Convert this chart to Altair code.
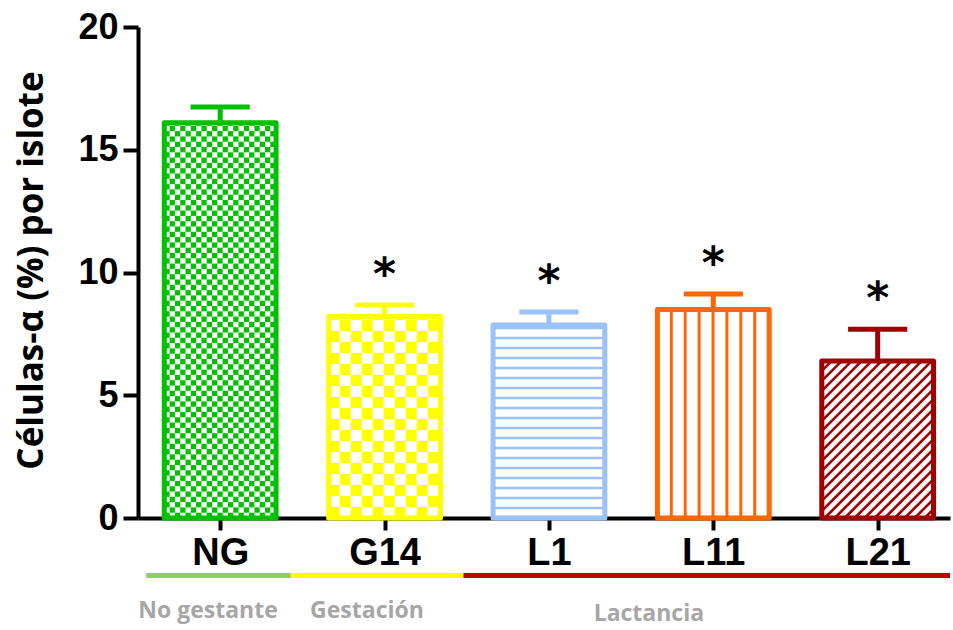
import json
import altair as alt
import pandas as pd

# Alpha-cell percentage per islet, mean and SEM by physiological stage
groups = ["NG", "G14", "L1", "L11", "L21"]
means = [16.1, 8.21, 7.86, 8.49, 6.40]
sems = [0.64, 0.47, 0.53, 0.63, 1.29]
significant = [False, True, True, True, True]

# Stage brackets under the axis (in category-index units)
phase_names = ["No gestante", "Gestación", "Lactancia"]
phase_start = [-0.45, 0.43, 1.48]
phase_end = [0.43, 1.48, 4.44]
phase_label_x = [-0.074, 0.893, 2.608]

# Styling
bar_colors = ["#00c000", "#ffff00", "#99c2f7", "#ff6600", "#a00000"]
fill_kind = ["checker", "checker", "horizontal", "vertical", "diagonal"]
fill_step = [5.3, 11.0, 10.0, 13.9, 10.0]      # pattern period in pixels
phase_colors = ["#92d050", "#ffff00", "#c00000"]
phase_label_dy = [0, 0, 3]

W, H = 812, 491
XMIN, XMAX = -0.5, 4.44
YMAX = 20
PX_X = W / (XMAX - XMIN)
PX_Y = H / YMAX
HALF = 0.34

bars = pd.DataFrame({
    "group": groups,
    "idx": list(range(len(groups))),
    "mean": means,
    "top": [m + s for m, s in zip(means, sems)],
    "color": bar_colors,
    "sig": significant,
})
bars["left"] = bars["idx"] - HALF
bars["right"] = bars["idx"] + HALF
bars["cap_l"] = bars["idx"] - 0.18
bars["cap_r"] = bars["idx"] + 0.18
bars["zero"] = 0.0

# Pattern fills, built in pixel space and mapped back to data units
cells, diags = [], []
for i, (m, col, kind, step) in enumerate(zip(means, bar_colors, fill_kind, fill_step)):
    x0 = i - HALF
    wpx = 2 * HALF * PX_X
    hpx = m * PX_Y

    def add_rect(ax, bx, ay, by):
        ax, bx = max(0.0, ax), min(wpx, bx)
        ay, by = max(0.0, ay), min(hpx, by)
        if bx > ax and by > ay:
            cells.append({"x": x0 + ax / PX_X, "x2": x0 + bx / PX_X,
                          "y": ay / PX_Y, "y2": by / PX_Y, "color": col})

    if kind == "checker":
        nc = int(wpx // step) + 1
        nr = int(hpx // step) + 1
        for r in range(nr):
            for c in range(nc):
                if (r + c) % 2 == 0:
                    add_rect(c * step, (c + 1) * step, r * step, (r + 1) * step)
    elif kind == "horizontal":
        k = 1
        while k * step < hpx:
            add_rect(0, wpx, k * step - 1.2, k * step + 1.2)
            k += 1
    elif kind == "vertical":
        k = 1
        while k * step < wpx - 2:
            add_rect(k * step - 1.5, k * step + 1.5, 0, hpx)
            k += 1
    elif kind == "diagonal":
        c = -hpx
        while c < wpx:
            xa, xb = max(0.0, c), min(wpx, hpx + c)
            if xb > xa:
                diags.append({"x": x0 + xa / PX_X, "x2": x0 + xb / PX_X,
                              "y": (xa - c) / PX_Y, "y2": (xb - c) / PX_Y,
                              "color": col})
            c += step

cells = pd.DataFrame(cells)
diags = pd.DataFrame(diags)

phases = pd.DataFrame({
    "name": phase_names, "start": phase_start, "end": phase_end,
    "color": phase_colors, "lx": phase_label_x, "dy": phase_label_dy,
})

x_scale = alt.Scale(domain=[XMIN, XMAX], nice=False, zero=False)
y_scale = alt.Scale(domain=[0, YMAX], nice=False)

label_expr = json.dumps(groups) + "[datum.value]"

x_axis = alt.Axis(
    values=list(range(len(groups))), labelExpr=label_expr, title=None,
    grid=False, domainColor="black", domainWidth=4, tickColor="black",
    tickWidth=4, tickSize=12, labelFont="Liberation Sans", labelFontWeight="bold",
    labelFontSize=38, labelColor="black", labelPadding=4, labelFlush=False,
)
y_axis = alt.Axis(
    values=[0, 5, 10, 15, 20], title="Células-α (%) por islote",
    grid=False, domainColor="black", domainWidth=4, tickColor="black",
    tickWidth=4, tickSize=15, labelFont="Liberation Sans", labelFontWeight="bold",
    labelFontSize=36, labelColor="black", labelPadding=5,
    titleFont="Open Sans", titleFontWeight="bold", titleFontSize=35,
    titleColor="black", titleAngle=-90, titleX=-107, titleY=243,
    titleAlign="center", titleBaseline="middle",
)


def xq(field):
    return alt.X(field, scale=x_scale, axis=x_axis)


def yq(field):
    return alt.Y(field, scale=y_scale, axis=y_axis)


pattern_cells = alt.Chart(cells).mark_rect(strokeWidth=0).encode(
    x=xq("x:Q"), x2="x2:Q", y=yq("y:Q"), y2="y2:Q",
    color=alt.Color("color:N", scale=None),
)

pattern_diag = alt.Chart(diags).mark_rule(strokeWidth=2.6, strokeCap="butt").encode(
    x=xq("x:Q"), x2="x2:Q", y=yq("y:Q"), y2="y2:Q",
    color=alt.Color("color:N", scale=None),
)

outline = alt.Chart(bars).mark_rect(
    fillOpacity=0, strokeWidth=5, strokeJoin="round"
).encode(
    x=xq("left:Q"), x2="right:Q", y=yq("zero:Q"), y2="mean:Q",
    stroke=alt.Stroke("color:N", scale=None),
)

stems = alt.Chart(bars).mark_rule(strokeWidth=5).encode(
    x=xq("idx:Q"), y=yq("mean:Q"), y2="top:Q",
    color=alt.Color("color:N", scale=None),
)

caps = alt.Chart(bars).mark_rule(strokeWidth=5, strokeCap="butt").encode(
    x=xq("cap_l:Q"), x2="cap_r:Q", y=yq("top:Q"),
    color=alt.Color("color:N", scale=None),
)

stars = alt.Chart(bars).transform_filter("datum.sig").mark_text(
    text="*", font="DejaVu Sans", fontWeight="bold", fontSize=44,
    color="black", dy=-29, baseline="middle",
).encode(
    x=xq("idx:Q"), y=yq("top:Q"),
)

phase_lines = alt.Chart(phases).mark_rule(strokeWidth=5, strokeCap="butt").encode(
    x=xq("start:Q"), x2="end:Q",
    y=alt.value(548.5),
    color=alt.Color("color:N", scale=None),
)

phase_text = alt.Chart(phases).mark_text(
    font="Open Sans", fontWeight="bold", fontSize=23, color="#a6a6a6",
    baseline="alphabetic",
).encode(
    x=xq("lx:Q"),
    y=alt.value(591),
    yOffset=alt.YOffset("dy:Q", scale=None),
    text="name:N",
)

chart = alt.layer(
    pattern_cells, pattern_diag, outline, stems, caps, stars,
    phase_lines, phase_text,
).properties(
    width=W, height=H,
    autosize=alt.AutoSizeParams(type="none"),
    padding={"left": 138, "top": 27, "right": 3, "bottom": 112},
    background="white",
).configure_view(stroke=None)

chart.save("out.html", embed_options={"renderer": "svg", "actions": False})
